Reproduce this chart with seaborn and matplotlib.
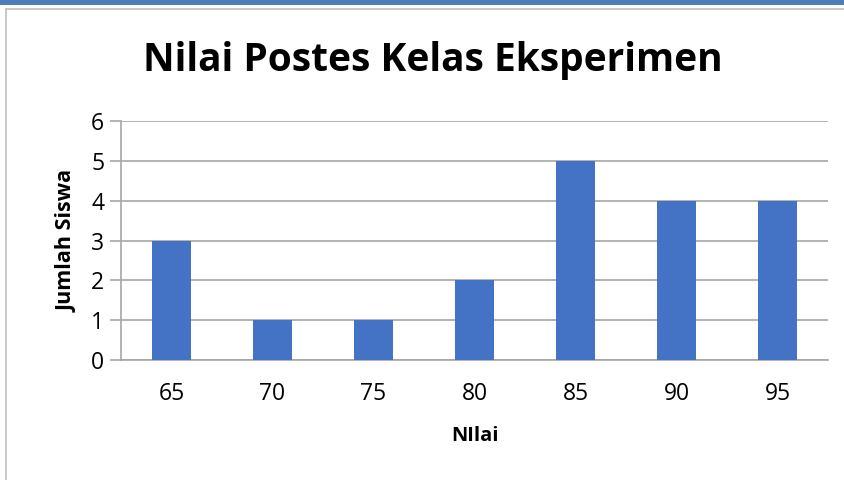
import matplotlib
matplotlib.use("Agg")
import matplotlib.pyplot as plt
import seaborn as sns
import pandas as pd
from matplotlib.patches import Rectangle
from matplotlib.lines import Line2D

categories = ["65", "70", "75", "80", "85", "90", "95"]
values = [3, 1, 1, 2, 5, 4, 4]
yticks = [0, 1, 2, 3, 4, 5, 6]

sns.set_theme(style="white")
plt.rcParams['font.family'] = ['Open Sans', 'DejaVu Sans']
plt.rcParams['text.color'] = 'black'
plt.rcParams['axes.labelcolor'] = 'black'
plt.rcParams['xtick.color'] = 'black'
plt.rcParams['ytick.color'] = 'black'

df = pd.DataFrame({"Nilai": categories, "Jumlah": values})

fig = plt.figure(figsize=(8.45, 4.8), dpi=100)
fig.patch.set_facecolor("white")
ax = fig.add_axes([121/845, 1-360/480, (828-121)/845, (360-121)/480])

sns.barplot(data=df, x="Nilai", y="Jumlah", color="#4472c4", width=0.39,
            saturation=1, ax=ax, zorder=3, edgecolor="none", linewidth=0)

ax.set_ylim(0, 6)
ax.set_xlim(-0.5, 6.5)
ax.set_yticks(yticks)
ax.yaxis.grid(True, color="#a6a6a6", linewidth=1.2, zorder=0)
ax.set_axisbelow(True)
for s in ["top", "right"]:
    ax.spines[s].set_visible(False)
for s in ["left", "bottom"]:
    ax.spines[s].set_color("#a6a6a6")
    ax.spines[s].set_linewidth(1.2)
ax.tick_params(axis="y", length=8, color="#a6a6a6", labelcolor="black", width=1.2,
               labelsize=16.5, pad=4, left=True)
ax.tick_params(axis="x", length=0, labelsize=16.5, labelcolor="black", pad=16)
ax.set_xlabel("NIlai", fontsize=14.5, fontweight="bold", labelpad=14, color="black")
ax.set_ylabel("Jumlah Siswa", fontsize=15.5, fontweight="bold", labelpad=10, color="black")

fig.text(0.512, 1-61/480, "Nilai Postes Kelas Eksperimen", ha="center", va="center",
         fontsize=28, fontweight="bold", color="black")

# decorative frame
fig.patches.append(Rectangle((0, 1-5/480), 1, 5/480, transform=fig.transFigure,
                             facecolor="#4a7ebb", edgecolor="none"))
fig.lines.append(Line2D([6/845, 6/845], [0, 1-9/480], transform=fig.transFigure,
                        color="#bfbfbf", linewidth=1.2))
fig.lines.append(Line2D([6/845, 1], [1-9/480, 1-9/480], transform=fig.transFigure,
                        color="#bfbfbf", linewidth=1.2))

fig.savefig("out.png", dpi=100)
